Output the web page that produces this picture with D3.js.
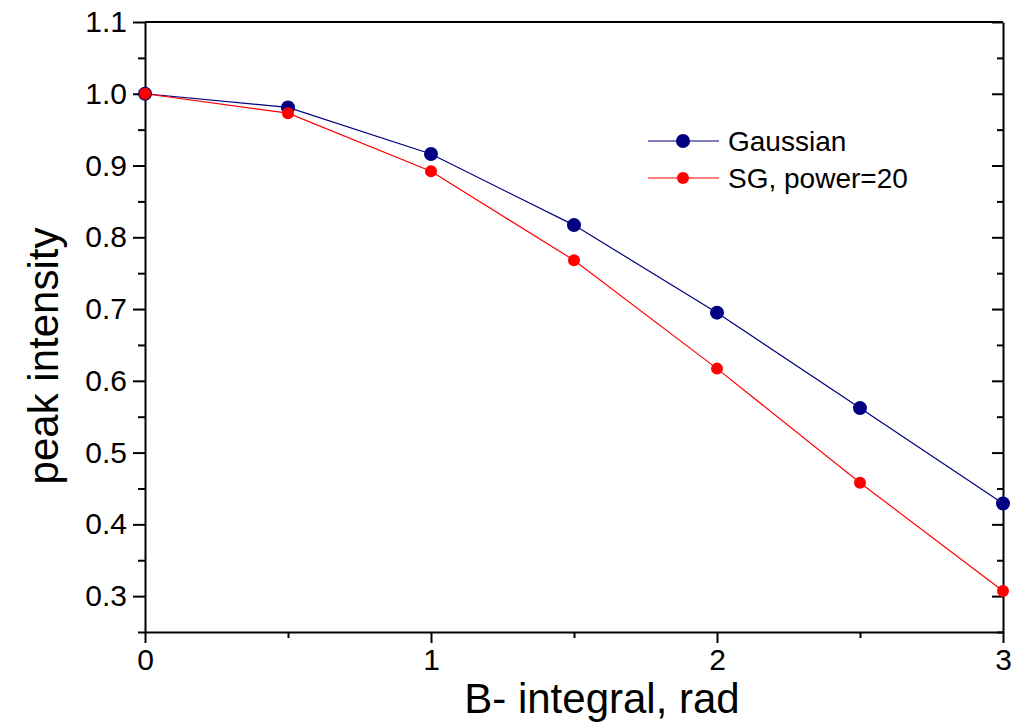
<!DOCTYPE html>
<html>
<head>
<meta charset="utf-8">
<script src="https://cdn.jsdelivr.net/npm/d3@7"></script>
<style>
    body { margin: 0; background: #fff; }
    svg { font-family: "Liberation Sans", Arial, sans-serif; }
    .axis path, .axis line { stroke: #000; stroke-width: 2; }
    .axis text { font-size: 30px; fill: #000; }
</style>
</head>
<body>
<div id="chart"></div>
<script>
// Dados
const bIntegral = [0, 0.5, 1, 1.5, 2, 2.5, 3];
const gaussian = [1.0, 0.981, 0.916, 0.817, 0.695, 0.562, 0.429];
const superGauss = [1.0, 0.973, 0.892, 0.768, 0.617, 0.458, 0.307];
const seriesNames = ['Gaussian', 'SG, power=20'];
const xTicks = [0, 1, 2, 3];
const yTicks = [0.3, 0.4, 0.5, 0.6, 0.7, 0.8, 0.9, 1.0, 1.1];

const W = 1014, H = 725;
const margin = {top: 22, right: 11, bottom: 93, left: 145};
const width = W - margin.left - margin.right;
const height = H - margin.top - margin.bottom;

const svg = d3.select('#chart').append('svg')
    .attr('width', W)
    .attr('height', H)
    .append('g')
    .attr('transform', `translate(${margin.left},${margin.top})`);

// Escalas
const x = d3.scaleLinear().domain([0, 3]).range([0, width]);
const y = d3.scaleLinear().domain([0.25, 1.1]).range([height, 0]);

// Ticks menores
const xMinor = d3.range(0, 3.01, 0.5).filter(v => Math.abs(v - Math.round(v)) > 1e-6);
const yMinor = d3.range(0.25, 1.1, 0.1).map(v => +v.toFixed(2));

// Eixos
svg.append('g')
    .attr('class', 'axis')
    .attr('transform', `translate(0,${height})`)
    .call(d3.axisBottom(x).tickValues(xMinor).tickSize(6).tickFormat(''))
    .call(g => g.select('.domain').remove());

svg.append('g')
    .attr('class', 'axis')
    .attr('transform', `translate(0,${height})`)
    .call(d3.axisBottom(x).tickValues(xTicks).tickSize(11).tickSizeOuter(0).tickPadding(6).tickFormat(d3.format('d')));

svg.append('g')
    .attr('class', 'axis')
    .call(d3.axisLeft(y).tickValues(yMinor).tickSize(7).tickFormat(''))
    .call(g => g.select('.domain').remove());

svg.append('g')
    .attr('class', 'axis')
    .call(d3.axisLeft(y).tickValues(yTicks).tickSize(12).tickSizeOuter(0).tickPadding(6).tickFormat(d3.format('.1f')));

// Eixo direito com ticks para dentro
svg.append('g')
    .attr('class', 'axis')
    .attr('transform', `translate(${width},0)`)
    .call(d3.axisLeft(y).tickValues(yTicks).tickSize(11).tickSizeOuter(0).tickFormat(''));

svg.append('g')
    .attr('class', 'axis')
    .attr('transform', `translate(${width},0)`)
    .call(d3.axisLeft(y).tickValues(yMinor).tickSize(6).tickSizeOuter(0).tickFormat(''))
    .call(g => g.select('.domain').remove());

// Topo
svg.append('line')
    .attr('x1', 0).attr('x2', width)
    .attr('y1', 0).attr('y2', 0)
    .attr('stroke', '#000')
    .attr('stroke-width', 2);

// Séries
const series = [
    {name: seriesNames[0], values: gaussian, color: '#000080', r: 7},
    {name: seriesNames[1], values: superGauss, color: '#ff0000', r: 6}
];

const line = d3.line()
    .x((d, i) => x(bIntegral[i]))
    .y(d => y(d));

series.forEach(s => {
    svg.append('path')
        .datum(s.values)
        .attr('fill', 'none')
        .attr('stroke', s.color)
        .attr('stroke-width', 1.2)
        .attr('d', line);
});

series.forEach(s => {
    svg.selectAll(null)
        .data(s.values)
        .enter().append('circle')
        .attr('cx', (d, i) => x(bIntegral[i]))
        .attr('cy', d => y(d))
        .attr('r', s.r)
        .attr('fill', s.color);
});

// Legenda
const legend = svg.append('g')
    .attr('transform', `translate(${648 - margin.left}, ${141 - margin.top})`);

series.forEach((s, i) => {
    const lg = legend.append('g')
        .attr('transform', `translate(0, ${i * 37})`);

    lg.append('line')
        .attr('x1', 0).attr('x2', 71)
        .attr('y1', 0).attr('y2', 0)
        .attr('stroke', s.color)
        .attr('stroke-width', 1.2);

    lg.append('circle')
        .attr('cx', 35).attr('cy', 0)
        .attr('r', s.r)
        .attr('fill', s.color);

    lg.append('text')
        .attr('x', 80)
        .attr('y', 0)
        .attr('dy', '.35em')
        .style('font-size', '28px')
        .text(s.name);
});

// Título dos eixos
svg.append('text')
    .attr('x', 602 - margin.left)
    .attr('y', 713 - margin.top)
    .style('text-anchor', 'middle')
    .style('font-size', '42px')
    .text('B- integral, rad');

svg.append('text')
    .attr('transform', `translate(${58 - margin.left}, ${356 - margin.top}) rotate(-90)`)
    .style('text-anchor', 'middle')
    .style('font-size', '42px')
    .text('peak intensity');
</script>
</body>
</html>
